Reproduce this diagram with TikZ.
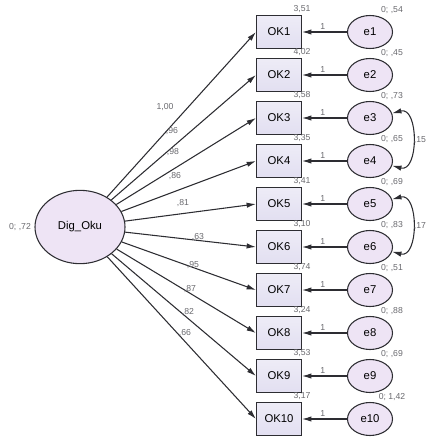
\documentclass[tikz,border=0pt]{standalone}
\usepackage{fontspec}
\setmainfont{Liberation Sans}
\usetikzlibrary{arrows.meta,shapes.geometric}
\definecolor{boxfill}{RGB}{226,223,241}
\definecolor{ellfill}{RGB}{238,228,245}
\definecolor{linecol}{RGB}{45,45,50}
\definecolor{lblcol}{RGB}{105,105,110}

\begin{document}
\begin{tikzpicture}[x=0.75pt,y=-0.75pt,
    obs/.style={draw=linecol,line width=0.8pt,top color=white!40!boxfill,bottom color=boxfill,minimum width=33.75pt,minimum height=24.75pt,inner sep=0pt,font=\fontsize{8.5}{10}\selectfont},
    err/.style={ellipse,draw=linecol,line width=0.8pt,fill=ellfill,minimum width=33.75pt,minimum height=24.75pt,inner sep=0pt,font=\fontsize{8.5}{10}\selectfont},
    lat/.style={ellipse,draw=linecol,line width=0.8pt,fill=ellfill,minimum width=67.5pt,minimum height=55pt,inner sep=0pt,font=\fontsize{8.5}{10}\selectfont},
    lbl/.style={text=lblcol,inner sep=1pt,font=\fontsize{6.5}{7}\selectfont},
    arr/.style={-{Latex[length=7pt,width=4pt]},draw=linecol,line width=0.8pt}]
        \useasboundingbox (0,0) rectangle (427,439);

        \node[lat](dig) at (80,227){Dig\_Oku};
        \node[lbl](vdig) at (20,227){0; ,72};

        % items, error terms and the loadings
        \foreach \i/\ld/\lx/\ly/\mn/\vr [evaluate=\i as \y using 32+43*(\i-1)] in
            {1/{1,00}/165/107/{3,51}/{0; ,54},
             2/{,96}/172/131/{4,02}/{0; ,45},
             3/{,98}/173/152/{3,58}/{0; ,73},
             4/{,86}/175/176/{3,35}/{0; ,65},
             5/{,81}/183/203/{3,41}/{0; ,69},
             6/{,63}/198/237/{3,10}/{0; ,83},
             7/{,95}/193/265/{3,74}/{0; ,51},
             8/{,87}/190/289/{3,24}/{0; ,88},
             9/{,82}/188/312/{3,53}/{0; ,69},
             10/{,66}/185/333/{3,17}/{0; 1,42}}{
            \node[obs](ok\i) at (279,\y){OK\i};
            \node[err](e\i) at (370,\y){e\i};
            \draw[arr](e\i)--node[lbl,above,pos=0.54,inner sep=1.8pt](one\i){1}(ok\i);
            \draw[arr](dig)--(ok\i.west);
            \node[lbl](ld\i) at (\lx,\ly){\ld};
            \node[lbl](mn\i) at (302,\y-23){\mn};
            \node[lbl](vr\i) at (392,\y-22){\vr};
        }

        % covariances
        \draw[{Latex[length=7pt,width=4pt]}-{Latex[length=7pt,width=4pt]},draw=linecol,line width=0.8pt](e3.12) .. controls (419,106) and (419,173) .. (e4.-12);
        \node[lbl,anchor=west,inner sep=0.5pt](cv34) at (413,140){,15};
        \draw[{Latex[length=7pt,width=4pt]}-{Latex[length=7pt,width=4pt]},draw=linecol,line width=0.8pt](e5.12) .. controls (419,192) and (419,259) .. (e6.-12);
        \node[lbl,anchor=west,inner sep=0.5pt](cv56) at (413,226){,17};
    \end{tikzpicture}
\end{document}
